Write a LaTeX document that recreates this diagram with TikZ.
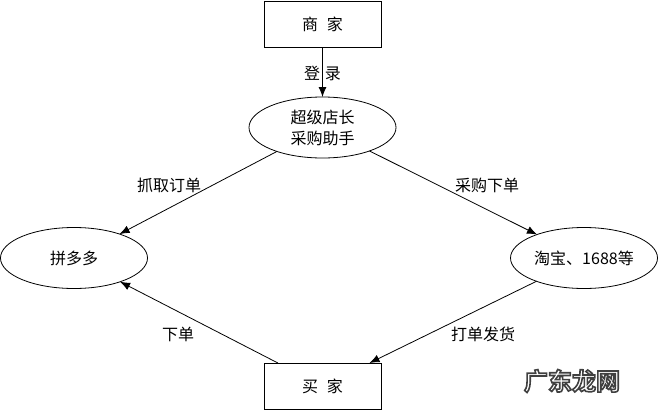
\documentclass[tikz,border=0pt]{standalone}
\usepackage{fontspec}
\setmainfont{Noto Sans CJK SC}
\newfontfamily\wmfont{Noto Sans CJK SC Bold}
\usetikzlibrary{arrows.meta,shapes.geometric}
\newcommand{\outlinedtext}[1]{\special{pdf:code q 2 Tr 1.6 w 0.25 G 1 g}#1\special{pdf:code Q}}
\tikzset{
  every node/.style={font=\fontsize{16}{21}\selectfont,align=center,outer sep=0pt,inner sep=0pt},
  boxnode/.style={draw,line width=0.8pt,minimum width=117pt,minimum height=46pt},
  ovalnode/.style={draw,ellipse,line width=0.8pt,minimum width=147pt,minimum height=61pt},
  conn/.style={line width=0.8pt,-{Latex[length=10pt,width=8pt]}},
  lbl/.style={},
  wmark/.style={font=\wmfont\fontsize{24}{24}\selectfont}
}
\begin{document}
\begin{tikzpicture}[x=1pt,y=-1pt]
\useasboundingbox (0,0) rectangle (658,410);
\node[boxnode] (shop) at (322.5,24) {商\hspace{0.55em}家};
\node[ovalnode] (tool) at (322.5,127.5) {超级店长\\采购助手};
\node[ovalnode] (pdd) at (74,258) {拼多多};
\node[ovalnode] (tb) at (584,258) {淘宝、1688等};
\node[boxnode] (buyer) at (322.5,386) {买\hspace{0.55em}家};
\draw[conn] (shop) -- (tool);
\draw[conn] (tool) -- (pdd);
\draw[conn] (tool) -- (tb);
\draw[conn] (tb) -- (buyer);
\draw[conn] (buyer) -- (pdd);
\node[lbl] (l1) at (322.5,73) {登\hspace{0.3em}录};
\node[lbl] (l2) at (169,185) {抓取订单};
\node[lbl] (l3) at (487,185) {采购下单};
\node[lbl] (l4) at (178,334) {下单};
\node[lbl] (l5) at (483,334) {打单发货};
\node[wmark] (wm) at (572,381) {\outlinedtext{广东龙网}};
\end{tikzpicture}
\end{document}
